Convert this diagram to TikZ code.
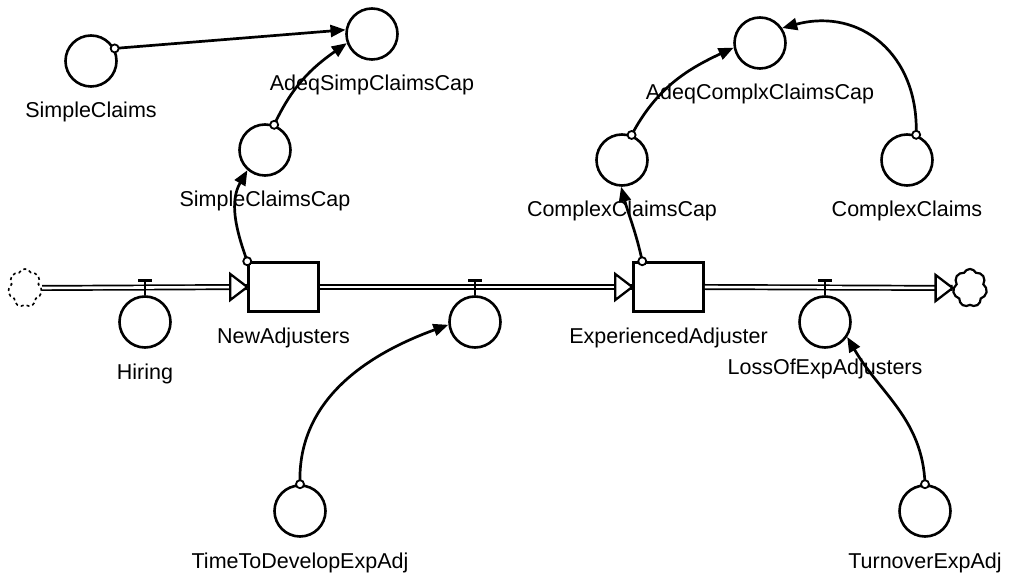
\documentclass[tikz,border=0pt]{standalone}
\usepackage{fontspec}
\setmainfont{Liberation Sans}
\usetikzlibrary{arrows.meta,shapes.symbols,calc}
\begin{document}
\begin{tikzpicture}[x=1pt,y=1pt,
  aux/.style={circle,draw,line width=2.6pt,minimum size=51pt,inner sep=0pt},
  stockbox/.style={rectangle,draw,line width=2.5pt,minimum width=70pt,minimum height=49pt,inner sep=0pt},
  lbl/.style={font=\fontsize{21.5}{24}\selectfont,inner sep=0pt},
  conn/.style={line width=2.7pt,-{Triangle[length=15pt,width=12pt]}},
  dotc/.style={line width=1.8pt,fill=white},
  pipe/.style={double=white,line width=1.7pt,double distance=2.6pt},
  valvebar/.style={line width=3.2pt},
  valvestem/.style={line width=1.7pt},
  cloudsh/.style={cloud,cloud puffs=7,cloud puff arc=130,aspect=0.9,draw,line width=2.2pt,minimum width=34pt,minimum height=38pt,inner sep=0pt},
  flowhead/.style={line width=2.3pt,fill=white,line join=miter}
]
\useasboundingbox (0,0) rectangle (1013,584);

% stocks and clouds
\node[stockbox] (NA) at (283.5,297) {};
\node[stockbox] (EA) at (668.5,297) {};
\node[cloudsh,dashed,line width=1.6pt] (cloudL) at (25,296) {};
\node[cloudsh] (cloudR) at (970,296) {};

% auxiliaries
\node[aux] (sc)  at (91,523) {};
\node[aux] (asc) at (372,550) {};
\node[aux] (scc) at (265,434) {};
\node[aux] (acc) at (760,541) {};
\node[aux] (ccc) at (622,424) {};
\node[aux] (cc)  at (907,424) {};
\node[aux] (hiring) at (145,262) {};
\node[aux] (mat) at (475,262) {};
\node[aux] (loss) at (825,262) {};
\node[aux] (ttd) at (300,73) {};
\node[aux] (toa) at (925,73) {};

% labels
\node[lbl] (scL)  at ([yshift=-51pt]sc.center) {SimpleClaims};
\node[lbl] (ascL) at ([yshift=-51pt]asc.center) {AdeqSimpClaimsCap};
\node[lbl] (sccL) at ([yshift=-51pt]scc.center) {SimpleClaimsCap};
\node[lbl] (accL) at ([yshift=-51pt]acc.center) {AdeqComplxClaimsCap};
\node[lbl] (cccL) at ([yshift=-51pt]ccc.center) {ComplexClaimsCap};
\node[lbl] (ccL)  at ([yshift=-51pt]cc.center) {ComplexClaims};
\node[lbl] (hiringL) at ([yshift=-52pt]hiring.center) {Hiring};
\node[lbl] (lossL) at ([yshift=-47pt]loss.center) {LossOfExpAdjusters};
\node[lbl] (ttdL) at ([yshift=-52pt]ttd.center) {TimeToDevelopExpAdj};
\node[lbl] (toaL) at ([yshift=-52pt]toa.center) {TurnoverExpAdj};
\node[lbl] (NAL) at ([yshift=-51pt]NA.center) {NewAdjusters};
\node[lbl] (EAL) at ([yshift=-51pt]EA.center) {ExperiencedAdjuster};

% pipes
\draw[pipe] (cloudL.east) -- (NA.west);
\draw[pipe] (NA.east) -- (EA.west);
\draw[pipe] (EA.east) -- (cloudR.west);
\draw[flowhead] (NA.west) -- ++(-17,13) -- ++(0,-26) -- cycle;
\draw[flowhead] (EA.west) -- ++(-17,13) -- ++(0,-26) -- cycle;
\draw[flowhead] (cloudR.west) -- ++(-17,13) -- ++(0,-26) -- cycle;

% valves
\foreach \v in {hiring,mat,loss}{
  \draw[valvestem] (\v.north) -- ++(0,15);
  \draw[valvebar] ($(\v.north)+(-7,15)$) -- ++(14,0);
}

% connectors
\coordinate (eaTap) at ($(EA.north west)+(10,0)$);
\draw[conn] (sc.28) -- (asc.171);
\draw[conn] (scc.70) to[out=65,in=215] (asc.200);
\draw[conn] (NA.north west) to[out=110,in=240] (scc.229);
\draw[conn] (ttd.north) to[out=92,in=200] (mat.186);
\draw[conn] (toa.north) to[out=92,in=-60] (loss.-34);
\draw[conn] (eaTap) to[out=102,in=-75] (ccc.268);
\draw[conn] (ccc.69) to[out=62,in=205] (acc.190);
\draw[conn] (cc.70) to[out=88,in=15,looseness=1.2] (acc.34);

% connector origins
\foreach \p in {sc.28,scc.70,NA.north west,ttd.north,toa.north,eaTap,ccc.69,cc.70}{
  \draw[dotc] (\p) circle[radius=4];
}
\end{tikzpicture}
\end{document}
